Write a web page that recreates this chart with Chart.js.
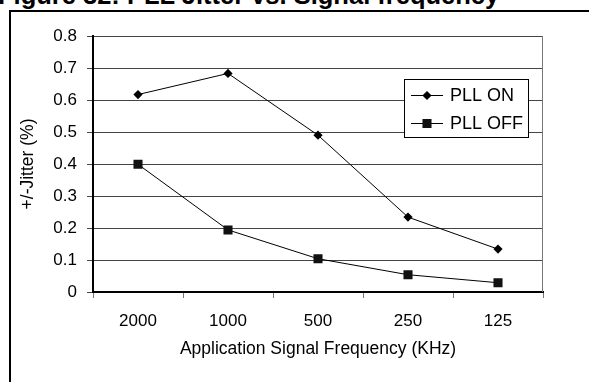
<!DOCTYPE html>
<html>
<head>
<meta charset="utf-8">
<script src="https://cdn.jsdelivr.net/npm/chart.js@4.4.0/dist/chart.umd.min.js"></script>
<style>
  html, body { margin: 0; padding: 0; background: #fff; }
  body { width: 589px; height: 382px; position: relative; overflow: hidden; font-family: "Liberation Sans", Arial, sans-serif; }
  #title { position: absolute; left: -2px; top: -17px; font-size: 25.5px; line-height: 1; font-weight: bold; white-space: nowrap; color: #000; }
  #frame { position: absolute; left: 9px; top: 10px; width: 700px; height: 500px; border-top: 2px solid #000; border-left: 2px solid #000; }
  #wrap { position: absolute; left: 0; top: 0; width: 589px; height: 382px; }
</style>
</head>
<body>
<div id="title">Figure 32: PLL Jitter vs. Signal frequency</div>
<div id="frame"></div>
<div id="wrap"><canvas id="jitterChart"></canvas></div>
<script>
// setup
const freqLabels = ['2000', '1000', '500', '250', '125'];
const pllOn = [0.617, 0.683, 0.49, 0.234, 0.134];
const pllOff = [0.399, 0.194, 0.104, 0.054, 0.029];
const yTicks = [0, 0.1, 0.2, 0.3, 0.4, 0.5, 0.6, 0.7, 0.8];

const font = { family: '"Liberation Sans", Arial, sans-serif', size: 17 };
const titleFont = { family: '"Liberation Sans", Arial, sans-serif', size: 17.5 };

const data = {
  labels: freqLabels,
  datasets: [{
    label: 'PLL ON',
    data: pllOn,
    borderColor: '#000',
    backgroundColor: '#000',
    borderWidth: 1,
    pointStyle: 'rectRot',
    pointRadius: 4.6,
    pointBorderWidth: 0,
    tension: 0
  }, {
    label: 'PLL OFF',
    data: pllOff,
    borderColor: '#000',
    backgroundColor: '#111',
    borderWidth: 1,
    pointStyle: 'rect',
    pointRadius: 6.4,
    pointBorderWidth: 0,
    tension: 0
  }]
};

// plot edge on the right + the boxed legend
const boxLegend = {
  id: 'boxLegend',
  afterDraw(chart) {
    const ctx = chart.ctx;
    const a = chart.chartArea;
    ctx.save();
    ctx.strokeStyle = '#777';
    ctx.lineWidth = 1;
    ctx.beginPath();
    ctx.moveTo(a.right - 0.5, a.top);
    ctx.lineTo(a.right - 0.5, a.bottom);
    ctx.stroke();

    const bx = 404.5, by = 79.5, bw = 124, bh = 58;
    ctx.fillStyle = '#fff';
    ctx.fillRect(bx, by, bw, bh);
    ctx.strokeStyle = '#000';
    ctx.strokeRect(bx, by, bw, bh);

    chart.data.datasets.forEach((ds, i) => {
      const y = 95 + i * 28;
      ctx.strokeStyle = ds.borderColor;
      ctx.lineWidth = 1;
      ctx.beginPath();
      ctx.moveTo(411, y + 0.5);
      ctx.lineTo(443, y + 0.5);
      ctx.stroke();
      ctx.fillStyle = ds.backgroundColor;
      Chart.helpers.drawPoint(ctx, { pointStyle: ds.pointStyle, radius: ds.pointRadius, borderWidth: 0, rotation: 0 }, 427, y + 0.5);
      ctx.fillStyle = '#000';
      ctx.font = '18px "Liberation Sans", Arial, sans-serif';
      ctx.textBaseline = 'middle';
      ctx.textAlign = 'left';
      ctx.fillText(ds.label, 450, y + 1);
    });
    ctx.restore();
  }
};

// config
const config = {
  type: 'line',
  data,
  options: {
    responsive: true,
    maintainAspectRatio: false,
    animation: false,
    layout: { padding: { left: 0, top: 36, right: 46, bottom: 0 } },
    plugins: {
      legend: { display: false },
      tooltip: { enabled: false }
    },
    scales: {
      x: {
        offset: true,
        grid: { display: true, drawOnChartArea: false, drawTicks: true, tickLength: 6, color: '#777', offset: true },
        border: { display: true, color: '#000', width: 2 },
        ticks: { color: '#000', font, padding: 13, maxRotation: 0 },
        title: { display: true, text: 'Application Signal Frequency (KHz)', color: '#000', font: titleFont, padding: { top: 0, bottom: 22 } },
        afterFit(scale) { scale.height = 90; }
      },
      y: {
        min: 0,
        max: 0.8,
        afterBuildTicks(scale) { scale.ticks = yTicks.map(v => ({ value: v })); },
        grid: { color: '#444', lineWidth: 1, drawTicks: true, tickLength: 6 },
        border: { display: true, color: '#000', width: 2 },
        ticks: { color: '#000', font, padding: 10 },
        title: { display: true, text: '+/-Jitter (%)', color: '#000', font: titleFont, padding: { top: 18, bottom: 0 } },
        afterFit(scale) { scale.width = 93; }
      }
    }
  },
  plugins: [boxLegend]
};

// render init block
const jitterChart = new Chart(
  document.getElementById('jitterChart'),
  config
);
</script>
</body>
</html>
